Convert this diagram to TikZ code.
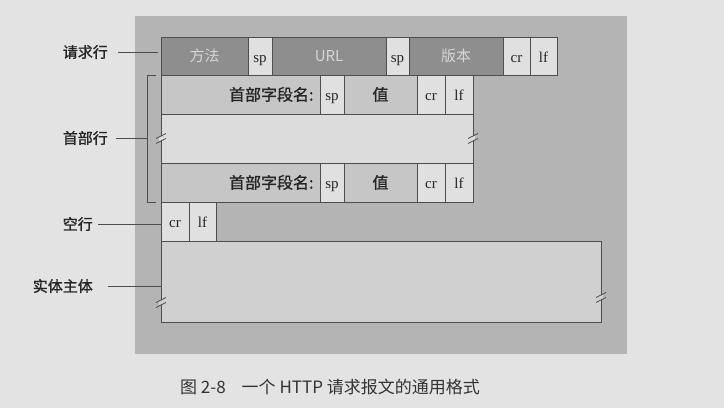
\documentclass[tikz,border=0pt]{standalone}
\usepackage{fontspec}
\setmainfont{Liberation Serif}
\newfontfamily\cjk{Noto Sans CJK SC}
\newfontfamily\cjkb{Noto Sans CJK SC}[FakeBold=1.2]
\usetikzlibrary{positioning}

\definecolor{pagegray}{HTML}{E3E3E3}
\definecolor{panelgray}{HTML}{B4B4B4}
\definecolor{darkcell}{HTML}{8E8E8E}
\definecolor{darktext}{HTML}{D6D6D6}
\definecolor{midcell}{HTML}{C6C6C6}
\definecolor{lightcell}{HTML}{E0E0E0}
\definecolor{gapcell}{HTML}{DCDCDC}
\definecolor{bodycell}{HTML}{D0D0D0}
\definecolor{linegray}{HTML}{4E4E4E}

\tikzset{
  box/.style={draw=linegray, line width=0.9pt, inner sep=0pt, outer sep=0pt},
  darkbox/.style={box, fill=darkcell, text=darktext, font=\cjk\fontsize{15}{15}\selectfont},
  lightbox/.style={box, fill=lightcell, text=black!85, text height=12pt, text depth=0pt, font=\fontsize{15}{15}\selectfont},
  midbox/.style={box, fill=midcell, text=black!85, font=\cjkb\fontsize{16}{16}\selectfont},
  lbl/.style={anchor=east, inner sep=0pt, text=black!85, font=\cjkb\fontsize{15}{15}\selectfont},
  leader/.style={draw=linegray, line width=0.7pt},
}

\begin{document}
\begin{tikzpicture}[x=1pt, y=-1pt]
    % Page and panel
    \fill[pagegray] (0,0) rectangle (724,408);
    \useasboundingbox (0,0) rectangle (724,408);
    \fill[panelgray] (135,16) rectangle (627,354);

    % Request line
    \node[darkbox, minimum width=87pt, minimum height=38pt, anchor=north west] (method) at (161,37) {方法};
    \node[lightbox, minimum width=24pt, minimum height=38pt, right=0pt of method] (sp1) {sp};
    \node[darkbox, minimum width=114pt, minimum height=38pt, right=0pt of sp1] (url) {URL};
    \node[lightbox, minimum width=23pt, minimum height=38pt, right=0pt of url] (sp2) {sp};
    \node[darkbox, minimum width=94pt, minimum height=38pt, right=0pt of sp2] (version) {版本};
    \node[lightbox, minimum width=27pt, minimum height=38pt, right=0pt of version] (cr1) {cr};
    \node[lightbox, minimum width=27pt, minimum height=38pt, right=0pt of cr1] (lf1) {lf};

    % First header line
    \node[midbox, minimum width=159pt, minimum height=39pt, text width=146pt, align=right, anchor=north west] (name1) at (method.south west) {首部字段名:};
    \node[lightbox, minimum width=24pt, minimum height=39pt, right=0pt of name1] (sp3) {sp};
    \node[midbox, minimum width=73pt, minimum height=39pt, right=0pt of sp3] (value1) {值};
    \node[lightbox, minimum width=28pt, minimum height=39pt, right=0pt of value1] (cr2) {cr};
    \node[lightbox, minimum width=28pt, minimum height=39pt, right=0pt of cr2] (lf2) {lf};

    % Omitted header lines
    \node[box, fill=gapcell, minimum width=312pt, minimum height=49pt, anchor=north west] (gap) at (name1.south west) {};

    % Last header line
    \node[midbox, minimum width=159pt, minimum height=39pt, text width=146pt, align=right, anchor=north west] (name2) at (gap.south west) {首部字段名:};
    \node[lightbox, minimum width=24pt, minimum height=39pt, right=0pt of name2] (sp4) {sp};
    \node[midbox, minimum width=73pt, minimum height=39pt, right=0pt of sp4] (value2) {值};
    \node[lightbox, minimum width=28pt, minimum height=39pt, right=0pt of value2] (cr3) {cr};
    \node[lightbox, minimum width=28pt, minimum height=39pt, right=0pt of cr3] (lf3) {lf};

    % Blank line
    \node[lightbox, minimum width=28pt, minimum height=39pt, anchor=north west] (cr4) at (name2.south west) {cr};
    \node[lightbox, minimum width=27pt, minimum height=39pt, right=0pt of cr4] (lf4) {lf};

    % Entity body
    \node[box, fill=bodycell, minimum width=440pt, minimum height=81pt, anchor=north west] (body) at (cr4.south west) {};

    % Break marks
    \coordinate (brkA) at (gap.west);
    \coordinate (brkB) at (gap.east);
    \coordinate (brkC) at ([yshift=-21pt]body.west);
    \coordinate (brkD) at ([yshift=-16pt]body.east);
    \foreach \m/\c in {brkA/gapcell, brkB/gapcell, brkC/bodycell, brkD/bodycell} {
        \fill[\c] ([shift={(-2pt,-3pt)}]\m) -- ([shift={(2pt,-1pt)}]\m) -- ([shift={(2pt,3pt)}]\m) -- ([shift={(-2pt,1pt)}]\m) -- cycle;
        \draw[leader] ([shift={(-5pt,-5pt)}]\m) -- ([shift={(5pt,0pt)}]\m);
        \draw[leader] ([shift={(-5pt,0pt)}]\m) -- ([shift={(5pt,5pt)}]\m);
    }

    % Labels on the left
    \node[lbl] (reqlbl) at (108,52) {请求行};
    \node[lbl] (hdrlbl) at (108,138) {首部行};
    \node[lbl] (blanklbl) at (93,224) {空行};
    \node[lbl] (bodylbl) at (93,286) {实体主体};

    % Leader lines
    \coordinate (brace) at ([xshift=-14pt]gap.west);
    \draw[leader] ([xshift=10pt]reqlbl.east) -- ([xshift=-3pt]reqlbl.east -| method.west);
    \draw[leader] ([xshift=-5pt]name1.north west) -- ([xshift=-14pt]name1.north west) -- ([xshift=-14pt]name2.south west) -- ([xshift=-5pt]name2.south west);
    \draw[leader] ([xshift=8pt]hdrlbl.east) -- (hdrlbl.east -| brace);
    \draw[leader] ([xshift=5pt]blanklbl.east) -- (blanklbl.east -| cr4.west);
    \draw[leader] ([xshift=15pt]bodylbl.east) -- (bodylbl.east -| body.west);

    % Caption
    \node[text=black!80, font=\cjk\fontsize{17}{17}\selectfont] (caption) at (330,387) {图 2-8\hspace{16pt}一个 HTTP 请求报文的通用格式};
\end{tikzpicture}
\end{document}
